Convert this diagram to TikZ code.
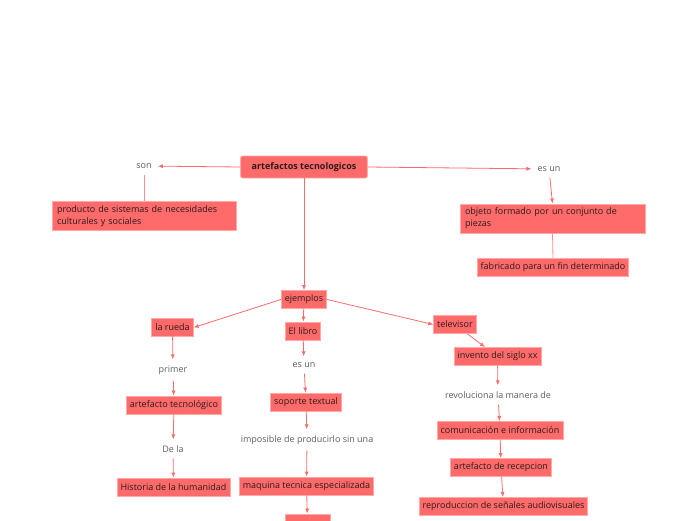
\documentclass[tikz,border=0pt]{standalone}
\usepackage{fontspec}
\setsansfont{Open Sans}
\usetikzlibrary{arrows.meta,positioning}
\definecolor{boxfill}{HTML}{FF6B6B}
\definecolor{boxline}{HTML}{FFA8A8}
\definecolor{wire}{HTML}{F96A6A}
\definecolor{ink}{HTML}{2B1A1A}
\definecolor{gray}{HTML}{5E5E5E}
\tikzset{
  every node/.style={font=\sffamily\fontsize{9}{12}\selectfont},
  box/.style={draw=boxline, fill=boxfill, line width=0.8pt, text=ink, inner xsep=3.5pt, inner ysep=3pt, minimum height=18pt},
  rootbox/.style={box, rounded corners=2pt, font=\sffamily\bfseries\fontsize{9}{12}\selectfont, minimum height=22pt, inner xsep=11pt},
  widebox/.style={box, align=left, text width=#1, inner xsep=5pt, inner ysep=4pt},
  linktext/.style={text=gray, inner sep=6pt},
  arrow/.style={-{Latex[length=5pt,width=4pt]}, line width=0.8pt, draw=wire},
  plain/.style={line width=0.8pt, draw=wire!75},
}
\begin{document}
\begin{tikzpicture}[x=1pt,y=-1pt]
\useasboundingbox (0,0) rectangle (696,520);
\clip (0,0) rectangle (696,520);
% top level
\node[rootbox] (root) at (304,167) {artefactos tecnologicos};
\node[linktext] (son) at (144,166) {son};
\node[widebox=174pt] (producto) at (144,216) {producto de sistemas de necesidades\\culturales y sociales};
\node[linktext] (esun) at (549,169) {es un};
\node[widebox=175pt] (objeto) at (552.5,218.5) {objeto formado por un conjunto de\\piezas};
\node[box] (fabricado) at (553,267.5) {fabricado para un fin determinado};
\draw[arrow](root.west)--(son);
\draw[plain](son)--(producto.north);
\draw[arrow](root.east)--(esun);
\draw[arrow](esun)--(objeto.north);
\draw[plain](objeto.south)--(fabricado.north);
% ejemplos
\node[box] (ejemplos) at (304,299.5) {ejemplos};
\node[box] (rueda) at (172.5,327.5) {la rueda};
\node[box] (libro) at (303,331) {El libro};
\node[box] (televisor) at (455,324.5) {televisor};
\draw[arrow](root)--(ejemplos);
\draw[arrow](ejemplos.west)--(rueda.east);
\draw[arrow](ejemplos)--(libro);
\draw[arrow](ejemplos.east)--(televisor.west);
% la rueda
\node[linktext] (primer) at (173,370) {primer};
\node[box] (artefacto) at (174,405) {artefacto tecnológico};
\node[linktext] (dela) at (173,449) {De la};
\node[box] (historia) at (173.5,487) {Historia de la humanidad};
\draw[arrow](rueda)--(primer);
\draw[arrow](primer)--(artefacto);
\draw[arrow](artefacto)--(dela);
\draw[arrow](dela)--(historia);
% el libro
\node[linktext] (esun2) at (304,365) {es un};
\node[box] (soporte) at (306,402) {soporte textual};
\node[linktext] (imposible) at (307,440) {imposible de producirlo sin una};
\node[box] (maquina) at (306.5,486) {maquina tecnica especializada};
\node[box, minimum width=45pt] (ultimo) at (307.5,523) {};
\draw[arrow](libro)--(esun2);
\draw[arrow](esun2)--(soporte);
\draw[arrow](soporte)--(imposible);
\draw[arrow](imposible)--(maquina);
\draw[arrow](maquina)--(ultimo);
% televisor
\node[box] (invento) at (497.5,356.5) {invento del siglo xx};
\node[linktext] (revoluciona) at (498,395) {revoluciona la manera de};
\node[box] (comunicacion) at (500,430.5) {comunicación e información};
\node[box] (recepcion) at (501,467.5) {artefacto de recepcion};
\node[box] (reproduccion) at (503.5,506.5) {reproduccion de señales audiovisuales};
\draw[arrow](televisor)--(invento);
\draw[arrow](invento)--(revoluciona);
\draw[arrow](revoluciona)--(comunicacion);
\draw[arrow](comunicacion)--(recepcion);
\draw[arrow](recepcion)--(reproduccion);
\end{tikzpicture}
\end{document}
